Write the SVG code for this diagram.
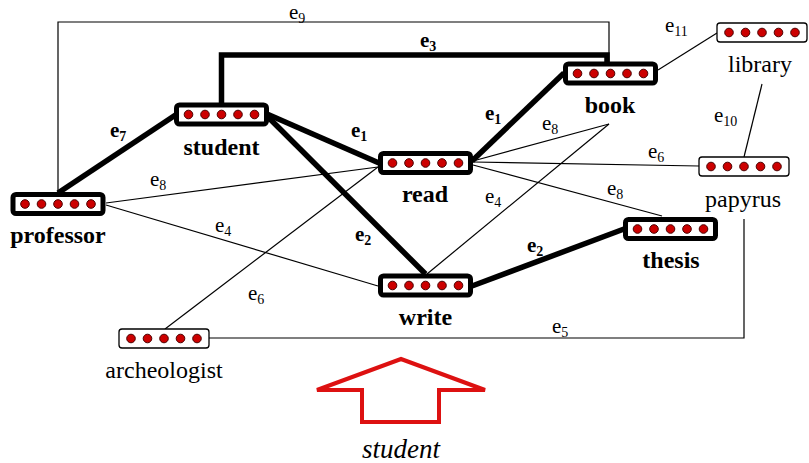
<svg xmlns="http://www.w3.org/2000/svg" width="809" height="463" viewBox="0 0 809 463">
<style>
.bold{fill:#fff;stroke:#000;stroke-width:5}
.thin{fill:#fff;stroke:#000;stroke-width:1.3}
.dot{fill:#cc0000;stroke:#4a0000;stroke-width:1}
text{font-family:'Liberation Serif','Times New Roman','DejaVu Serif',serif;fill:#000}
.lb{font-weight:bold;font-size:24px;text-anchor:middle}
.lr{font-size:24px;text-anchor:middle}
.el{font-size:21px}
.elb{font-size:21px;font-weight:bold}
.sub{font-size:14px}
.thick{fill:none;stroke:#000;stroke-width:5.5;stroke-linejoin:miter}
.line{fill:none;stroke:#000;stroke-width:1.2}
</style>
<defs>
<g id="dots">
<circle class="dot" cx="-33" cy="0" r="4.3"/>
<circle class="dot" cx="-16.5" cy="0" r="4.3"/>
<circle class="dot" cx="0" cy="0" r="4.3"/>
<circle class="dot" cx="16.5" cy="0" r="4.3"/>
<circle class="dot" cx="33" cy="0" r="4.3"/>
</g>
</defs>
<rect width="809" height="463" fill="#fff"/>
<g id="connectors">
<polyline class="line" points="58,193 58,22 609,22 609,62"/>
<polyline class="thick" points="221.5,103 221.5,55 607,55 607,62"/>
<line class="thick" x1="58" y1="193" x2="177" y2="114"/>
<line class="thick" x1="267" y1="114" x2="379" y2="163"/>
<line class="thick" x1="267" y1="116" x2="425.5" y2="274"/>
<line class="thick" x1="472" y1="161" x2="564" y2="73"/>
<line class="thick" x1="472" y1="286" x2="624" y2="229"/>
<line class="line" x1="658" y1="70" x2="717" y2="33"/>
<line class="line" x1="762" y1="84" x2="744" y2="157"/>
<line class="line" x1="473" y1="162" x2="699" y2="166"/>
<line class="line" x1="473" y1="161" x2="609" y2="124"/>
<line class="line" x1="427" y1="274" x2="609" y2="124"/>
<line class="line" x1="473" y1="165" x2="662" y2="216"/>
<line class="line" x1="106" y1="203" x2="378" y2="167"/>
<line class="line" x1="106" y1="205" x2="378" y2="286"/>
<line class="line" x1="165" y1="329" x2="378" y2="167"/>
<polyline class="line" points="209,338 744,338 744,219"/>
<text class="el" x="289" y="19" font-size="20">e<tspan class="sub" dy="4">9</tspan></text>
<text class="elb" x="420" y="47">e<tspan class="sub" dy="4">3</tspan></text>
<text class="elb" x="110" y="137">e<tspan class="sub" dy="4">7</tspan></text>
<text class="elb" x="351" y="137">e<tspan class="sub" dy="4">1</tspan></text>
<text class="elb" x="485" y="120">e<tspan class="sub" dy="4">1</tspan></text>
<text class="el" x="542" y="130">e<tspan class="sub" dy="4">8</tspan></text>
<text class="el" x="665" y="32">e<tspan class="sub" dy="4">11</tspan></text>
<text class="el" x="714" y="122">e<tspan class="sub" dy="4">10</tspan></text>
<text class="el" x="648" y="158">e<tspan class="sub" dy="4">6</tspan></text>
<text class="el" x="607" y="195">e<tspan class="sub" dy="4">8</tspan></text>
<text class="el" x="150" y="186">e<tspan class="sub" dy="4">8</tspan></text>
<text class="el" x="215" y="232">e<tspan class="sub" dy="4">4</tspan></text>
<text class="el" x="248" y="300">e<tspan class="sub" dy="4">6</tspan></text>
<text class="el" x="485" y="203">e<tspan class="sub" dy="4">4</tspan></text>
<text class="elb" x="355" y="241">e<tspan class="sub" dy="4">2</tspan></text>
<text class="elb" x="527" y="252">e<tspan class="sub" dy="4">2</tspan></text>
<text class="el" x="552" y="333">e<tspan class="sub" dy="4">5</tspan></text>
</g>
<g id="student">
<rect class="bold" x="176.5" y="105" width="90" height="19" rx="3"/>
<use href="#dots" x="221.5" y="114.5"/>
<text class="lb" x="221.5" y="155">student</text>
</g>
<g id="professor">
<rect class="bold" x="13" y="194.5" width="90" height="19" rx="3"/>
<use href="#dots" x="58" y="204"/>
<text class="lb" x="58" y="243">professor</text>
</g>
<g id="read">
<rect class="bold" x="380.5" y="153.5" width="90" height="19" rx="3"/>
<use href="#dots" x="425.5" y="163"/>
<text class="lb" x="425" y="202">read</text>
</g>
<g id="write">
<rect class="bold" x="380.5" y="276" width="90" height="19" rx="3"/>
<use href="#dots" x="425.5" y="285.5"/>
<text class="lb" x="425.5" y="325">write</text>
</g>
<g id="book">
<rect class="bold" x="565.5" y="64" width="90" height="19" rx="3"/>
<use href="#dots" x="610.5" y="73.5"/>
<text class="lb" x="610" y="113">book</text>
</g>
<g id="thesis">
<rect class="bold" x="625.5" y="219.5" width="90" height="19" rx="3"/>
<use href="#dots" x="670.5" y="229"/>
<text class="lb" x="671" y="268">thesis</text>
</g>
<g id="library">
<rect class="thin" x="717" y="23" width="90" height="19" rx="3"/>
<use href="#dots" x="762" y="32.5"/>
<text class="lr" x="760" y="72">library</text>
</g>
<g id="papyrus">
<rect class="thin" x="699" y="157" width="90" height="19" rx="3"/>
<use href="#dots" x="744" y="166.5"/>
<text class="lr" x="743" y="207">papyrus</text>
</g>
<g id="archeologist">
<rect class="thin" x="119" y="329" width="90" height="19" rx="3"/>
<use href="#dots" x="164" y="338.5"/>
<text class="lr" x="164" y="378">archeologist</text>
</g>
<g id="arrow">
<polygon points="401,359 485,390 439,390 439,422 362,422 362,390 317,390" fill="none" stroke="#dd1111" stroke-width="4" stroke-linejoin="miter"/>
<text x="401" y="458" font-style="italic" font-size="27" text-anchor="middle">student</text>
</g>
</svg>
